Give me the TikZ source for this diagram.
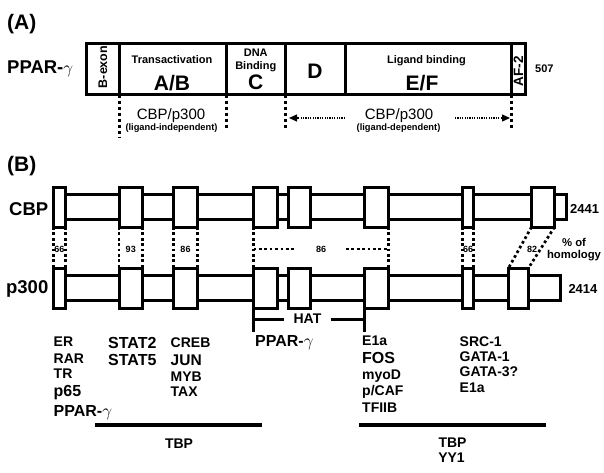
\documentclass[tikz,border=0pt]{standalone}
\usepackage{fontspec}
\setmainfont{Liberation Sans}
\usetikzlibrary{positioning, arrows.meta}
\tikzset{ cell/.style = { draw
                        , line width     = 3pt
                        , inner sep      = 0pt
                        , outer sep      = 0pt
                        , minimum height = 51pt
                        , minimum width  = #1
                        },
          box/.style  = { draw
                        , fill           = white
                        , line width     = 3pt
                        , inner sep      = 0pt
                        , outer sep      = 0pt
                        , minimum height = 40pt
                        , minimum width  = #1
                        },
          bar/.style  = { box = #1
                        , minimum height = 25pt
                        },
          txt/.style  = { inner sep = 0pt
                        , font      = {\fontsize{#1}{#1}\selectfont\bfseries}
                        },
          thin/.style = { inner sep = 0pt
                        , font      = {\fontsize{#1}{#1}\selectfont}
                        },
          vdot/.style = { line width   = 3pt
                        , dash pattern = on 3pt off 3pt
                        },
          hom/.style  = { line width   = 2.7pt
                        , dash pattern = on 2.7pt off 2.7pt
                        },
          arr/.style  = { line width   = 1.2pt
                        , dash pattern = on 1.2pt off 1.2pt
                        , -{Triangle[length=8pt, width=7pt]}
                        },
          brk/.style  = { line width = 3pt },
          tbp/.style  = { line width = 4pt }
        }

\begin{document}
\begin{tikzpicture}[x=1pt, y=-1pt]
    \useasboundingbox (0,0) rectangle (604,472);

    % (A) PPAR-gamma domains
    \node[txt=21, anchor=base west] (heada) at (7,29) {(A)};
    \node[txt=18.5, anchor=base west] (ppara) at (7,73.3) {PPAR-$\gamma$};
    \node[cell=33pt, anchor=west] (bex) at (86.5,69) {};
    \node[cell=107pt, right=0pt of bex] (ab) {};
    \node[cell=58.5pt, right=0pt of ab] (cc) {};
    \node[cell=60pt, right=0pt of cc] (dd) {};
    \node[cell=166.5pt, right=0pt of dd] (ef) {};
    \node[cell=14pt, right=0pt of ef] (af) {};

    \node[txt=12.5, rotate=90] (bext) at (103,67) {B-exon};
    \node[txt=11, anchor=base] (tat) at (172,63.3) {Transactivation};
    \node[txt=21, anchor=base] (abt) at (172,90) {A/B};
    \node[txt=11, anchor=base] (dnat) at (255.75,56) {DNA};
    \node[txt=11, anchor=base] (bint) at (255.75,69) {Binding};
    \node[txt=21, anchor=base] (ct) at (255.75,89.3) {C};
    \node[txt=21, anchor=base] (dt) at (315,78) {D};
    \node[txt=11, anchor=base] (ligt) at (426.5,63.3) {Ligand binding};
    \node[txt=21, anchor=base] (eft) at (422,90) {E/F};
    \node[txt=13.5, rotate=90] (aft) at (518.5,71) {AF-2};
    \node[txt=11, anchor=base west] (len) at (535,72.5) {507};

    \coordinate (lowa) at (0,138);
    \coordinate (lowb) at (0,130);
    \draw[vdot] (ab.south west) -- (ab.south west |- lowa);
    \draw[vdot] (ab.south east) -- (ab.south east |- lowb);
    \draw[vdot] (dd.south west) -- (dd.south west |- lowb);
    \draw[vdot] (af.south west) -- (af.south west |- lowb);

    \node[thin=15, anchor=base] (cbpi) at (171,119) {CBP/p300};
    \node[txt=9.3, anchor=base] (lind) at (171.5,130) {(ligand-independent)};
    \node[thin=15, anchor=base] (cbpd) at (399,119) {CBP/p300};
    \node[txt=9.3, anchor=base] (ldep) at (398.5,130.5) {(ligand-dependent)};
    \coordinate (arl) at (0,118);
    \coordinate (arr) at (455,118);
    \draw[arr, shorten >=4pt] (ef.south west |- arl) -- (dd.south west |- arl);
    \draw[arr, shorten >=1.5pt] (arr) -- (af.south west |- arr);

    % (B) CBP and p300
    \node[txt=21, anchor=base west] (headb) at (7,171) {(B)};
    \node[txt=18.5, anchor=base east] (cbp) at (48.5,215) {CBP};
    \node[txt=18.5, anchor=base east] (pth) at (48.5,293) {p300};

    \node[bar=510.2pt, anchor=west] (cbar) at (56,207) {};
    \node[bar=504.8pt, anchor=west] (pbar) at (56,288) {};

    \node[box=12pt] (c1) at (59.5,207) {};
    \node[box=23.5pt] (c2) at (130.75,207) {};
    \node[box=24pt] (c3) at (185.5,207) {};
    \node[box=24pt] (c4) at (265.5,207) {};
    \node[box=22pt] (c5) at (299.5,207) {};
    \node[box=24pt] (c6) at (376.5,207) {};
    \node[box=11pt] (c7) at (468,207) {};
    \node[box=23pt] (c8) at (543,207) {};

    \node[box=12pt] (p1) at (59.5,288) {};
    \node[box=23.5pt] (p2) at (130.75,288) {};
    \node[box=24pt] (p3) at (185.5,288) {};
    \node[box=24pt] (p4) at (265.5,288) {};
    \node[box=22pt] (p5) at (299.5,288) {};
    \node[box=24pt] (p6) at (376.5,288) {};
    \node[box=11pt] (p7) at (468,288) {};
    \node[box=20pt] (p8) at (518.5,288) {};

    \node[txt=13, anchor=base west] (lcbp) at (570,213.3) {2441};
    \node[txt=13, anchor=base west] (lpth) at (568.3,293.3) {2414};

    % homology
    \draw[hom] (c1.south west) -- (p1.north west);
    \draw[hom] (c1.south east) -- (p1.north east);
    \draw[hom] (c2.south west) -- (p2.north west);
    \draw[hom] (c2.south east) -- (p2.north east);
    \draw[hom] (c3.south west) -- (p3.north west);
    \draw[hom] (c3.south east) -- (p3.north east);
    \draw[hom] (c4.south west) -- (p4.north west);
    \draw[hom] (c6.south east) -- (p6.north east);
    \draw[hom] (c7.south west) -- (p7.north west);
    \draw[hom] (c7.south east) -- (p7.north east);
    \draw[hom] (c8.south west) -- (p8.north west);
    \draw[hom] (c8.south east) -- (p8.north east);

    \node[txt=9] (h1) at (59.5,249) {66};
    \node[txt=9] (h2) at (130.75,249) {93};
    \node[txt=9] (h3) at (185.5,249) {86};
    \node[txt=9, minimum width=49.7pt] (h4) at (321,249) {86};
    \node[txt=9] (h7) at (468,249) {66};
    \node[txt=9] (h8) at (532,249) {82};
    \draw[hom] (c4.south west |- h4.west) -- (h4.west);
    \draw[hom] (h4.east) -- (c6.south east |- h4.east);
    \node[txt=11.3, anchor=base] (pof) at (574,246) {\% of};
    \node[txt=11.3, anchor=base] (hmgy) at (574,258) {homology};

    % HAT
    \node[txt=14, inner xsep=9pt] (hat) at (307.5,319) {HAT};
    \coordinate (hatlo) at (0,332);
    \draw[brk] (p4.south west) -- (p4.south west |- hatlo);
    \draw[brk] (p6.south west) -- (p6.south west |- hatlo);
    \draw[brk] (p4.south west |- hat.west) -- (hat.west);
    \draw[brk] (hat.east) -- (p6.south west |- hat.east);

    % partners
    \node[txt=14, anchor=base west] (er) at (53.5,346.7) {ER};
    \node[txt=14, anchor=base west] (rar) at (53.5,363.3) {RAR};
    \node[txt=14, anchor=base west] (tr) at (53.5,378) {TR};
    \node[txt=16, anchor=base west] (psf) at (53.5,396) {p65};
    \node[txt=16, anchor=base west] (pparb) at (53.5,416.7) {PPAR-$\gamma$};
    \node[txt=16, anchor=base west] (stb) at (108,348.3) {STAT2};
    \node[txt=16, anchor=base west] (stf) at (108,365.7) {STAT5};
    \node[txt=14, anchor=base west] (creb) at (170.5,347.3) {CREB};
    \node[txt=15.5, anchor=base west] (jun) at (170.5,365) {JUN};
    \node[txt=14, anchor=base west] (myb) at (170.5,381.7) {MYB};
    \node[txt=14, anchor=base west] (tax) at (170.5,396.7) {TAX};
    \node[txt=16, anchor=base west] (pparc) at (255,346.7) {PPAR-$\gamma$};
    \node[txt=14, anchor=base west] (ea) at (362,345.7) {E1a};
    \node[txt=16, anchor=base west] (fos) at (362,363.3) {FOS};
    \node[txt=14, anchor=base west] (myod) at (362,379) {myoD};
    \node[txt=14, anchor=base west] (pcaf) at (362,395) {p/CAF};
    \node[txt=14, anchor=base west] (tf) at (362,412.7) {TFIIB};
    \node[txt=14, anchor=base west] (src) at (459.5,346) {SRC-1};
    \node[txt=14, anchor=base west] (gao) at (459.5,361.7) {GATA-1};
    \node[txt=14, anchor=base west] (gat) at (459.5,376.7) {GATA-3?};
    \node[txt=14, anchor=base west] (eb) at (459.5,392.7) {E1a};

    \coordinate (tla) at (95,425);
    \coordinate (tlb) at (262,425);
    \coordinate (tra) at (359,425);
    \coordinate (trb) at (546,425);
    \draw[tbp] (tla) -- (tlb);
    \draw[tbp] (tra) -- (trb);
    \node[txt=14, anchor=base] (tbpa) at (179,448) {TBP};
    \node[txt=14, anchor=base] (tbpb) at (452.5,447) {TBP};
    \node[txt=14, anchor=base] (yy) at (451.5,462) {YY1};
\end{tikzpicture}
\end{document}
